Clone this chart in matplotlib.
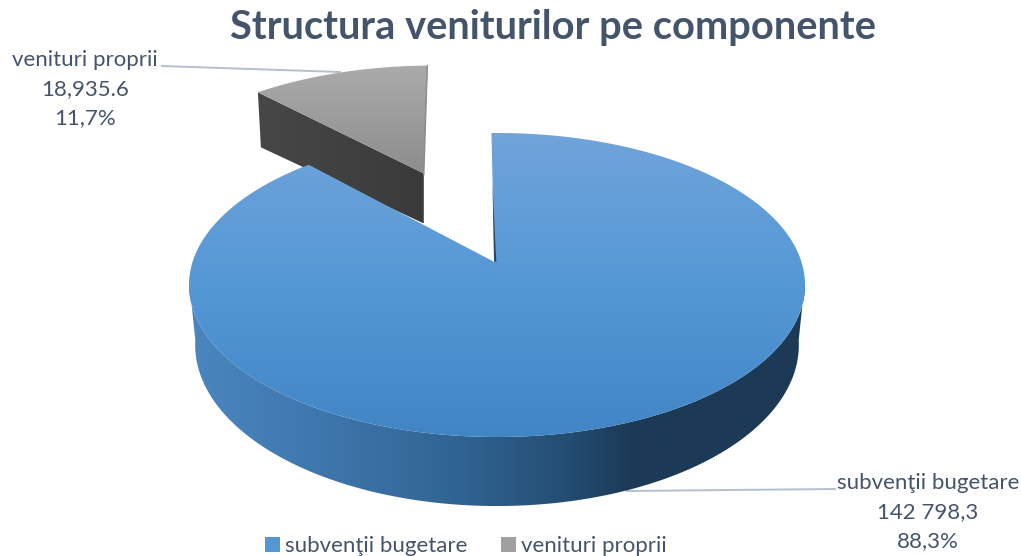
import numpy as np
import matplotlib
matplotlib.use("Agg")
import matplotlib.pyplot as plt
from matplotlib.colors import LinearSegmentedColormap as LSC
from matplotlib.patches import Polygon, Patch

title = "Structura veniturilor pe componente"
categories = ["subvenţii bugetare", "venituri proprii"]
values = [142798.3, 18935.6]
value_labels = ["142 798,3", "18,935.6"]
percent_labels = ["88,3%", "11,7%"]

W, H = 1021, 556
TXT = "#44546a"
FONT = "Lato"
plt.rcParams["font.family"] = [FONT, "DejaVu Sans"]

# perspective disc geometry (pixels)
CX, CY, RX, RY = 497.0, 285.0, 308.0, 152.0
A = 0.151           # perspective strength
START = -1.2        # first slice starts here (deg, clockwise from top)
EXPLODE = 0.717
BOTTOM_SHRINK = 0.98
H0 = 58.6
APEX_SHIFT = -2.5
SLICE_DX, SLICE_DY = 2.0, 1.0


def project(u, v):
    d = 1 + A * v
    X = u * np.sqrt(1 - A * A) / d
    Y = (v + A) / d
    return CX + RX * X, CY - RY * Y


def wedge_uv(t0, t1, n=300):
    t = np.radians(np.linspace(t0, t1, n))
    return np.sin(t), np.cos(t)


shares = np.array(values) / sum(values)
main_end = START + 360 * shares[0]
small_start = main_end - 360
mid_small = np.radians((small_start + START) / 2)
ox, oy = EXPLODE * np.sin(mid_small), EXPLODE * np.cos(mid_small)

fig = plt.figure(figsize=(W / 100, H / 100), dpi=100)
ax = fig.add_axes([0, 0, 1, 1])


def gradient(colors, poly_xy, horizontal=False, zorder=1):
    cmap = LSC.from_list("g", colors)
    patch = Polygon(poly_xy, closed=True, transform=ax.transData, fc="none", ec="none")
    ax.add_patch(patch)
    x0, x1 = poly_xy[:, 0].min(), poly_xy[:, 0].max()
    y0, y1 = poly_xy[:, 1].min(), poly_xy[:, 1].max()
    arr = np.linspace(0, 1, 256)
    arr = arr[None, :] if horizontal else arr[:, None]
    im = ax.imshow(arr, cmap=cmap, extent=(x0, x1, y1, y0), aspect="auto",
                   origin="upper", zorder=zorder, interpolation="bilinear")
    im.set_clip_path(patch)
    return im


# exploded small slice
su, sv = wedge_uv(small_start, START, 80)
su, sv = su + ox, sv + oy
px, py = project(su, sv)
px, py = px + SLICE_DX, py + SLICE_DY
ax_, ay_ = project(np.array([ox]), np.array([oy]))
ax_, ay_ = ax_ + SLICE_DX, ay_ + SLICE_DY
small_top = np.column_stack([np.r_[ax_, px], np.r_[ay_, py]])
lx, ly = px[0], py[0]
side = np.array([[lx, ly], [ax_[0], ay_[0]], [ax_[0], ay_[0] + 50], [lx + 3, ly + 55]])
gradient(["#474747", "#3a3a3a"], side, horizontal=True, zorder=2)
gradient(["#ababab", "#8d8d8d"], small_top, zorder=3)
ax.plot([px[-1] - 0.5, ax_[0]], [py[-1], ay_[0] + 1], color="#8a8a8a", lw=1.0, zorder=3.5)

# main pie wall
fu, fv = wedge_uv(97, 263, 300)
fx, fy = project(fu, fv)
h = H0 / (1 + A * fv)
bx = CX + (fx - CX) * BOTTOM_SHRINK
by = fy + h
wall = np.r_[np.column_stack([fx, fy]), np.column_stack([bx, by])[::-1]]
wall_colors = [(0.0, "#4a86bf"), (0.2, "#3f78ae"), (0.45, "#2f6291"),
               (0.62, "#234c71"), (0.72, "#1c3a56"), (1.0, "#1c3a56")]
gradient(wall_colors, wall, horizontal=True, zorder=4)

# main pie top
mu, mv = wedge_uv(START, main_end, 700)
mx, my = project(mu, mv)
ax0, ay0 = project(np.array([0.0]), np.array([0.0]))
ax0 = ax0 + APEX_SHIFT
main_top = np.column_stack([np.r_[ax0, mx], np.r_[ay0, my]])
gradient(["#70a4da", "#5498d6", "#4285c5"], main_top, zorder=5)

# thin dark inner wall next to the cut
sliver = np.array([[mx[0] + 0.3, my[0] + 15], [ax0[0] - 0.5, ay0[0] - 1],
                   [ax0[0] + 1.8, ay0[0] + 0.5], [mx[0] + 1.0, my[0] + 50]])
ax.add_patch(Polygon(sliver, closed=True, fc="#25486a", ec="none", zorder=6))

# leader lines
ax.plot([162, 340], [66, 72], color="#b3bfce", lw=1.4, zorder=1.5)
ax.plot([627, 835], [491, 489], color="#b3bfce", lw=1.4, zorder=1.5)

# title
ax.text(553, 28, title, ha="center", va="center", fontsize=28.7, fontweight="bold", color=TXT)

# data labels
FS = 16.0
centers = [(928, (483, 512, 541)), (85, (60, 89, 118))]
for i, (x, ys) in enumerate(centers):
    for s, y in zip((categories[i], value_labels[i], percent_labels[i]), ys):
        ax.text(x, y, s, ha="center", va="center", fontsize=FS, color=TXT)

# legend
handles = [Patch(fc="#5596d5", ec="none"), Patch(fc="#a0a0a0", ec="none")]
ax.legend(handles, categories, ncol=2, loc="lower left", bbox_to_anchor=(258 / W, -7 / H),
          frameon=False, fontsize=FS, labelcolor=TXT, handlelength=0.68, handleheight=0.68,
          handletextpad=0.23, columnspacing=1.5, borderpad=0.3, borderaxespad=0)

ax.set_xlim(0, W)
ax.set_ylim(H, 0)
ax.axis("off")
fig.savefig("out.png", dpi=100, facecolor="white")
